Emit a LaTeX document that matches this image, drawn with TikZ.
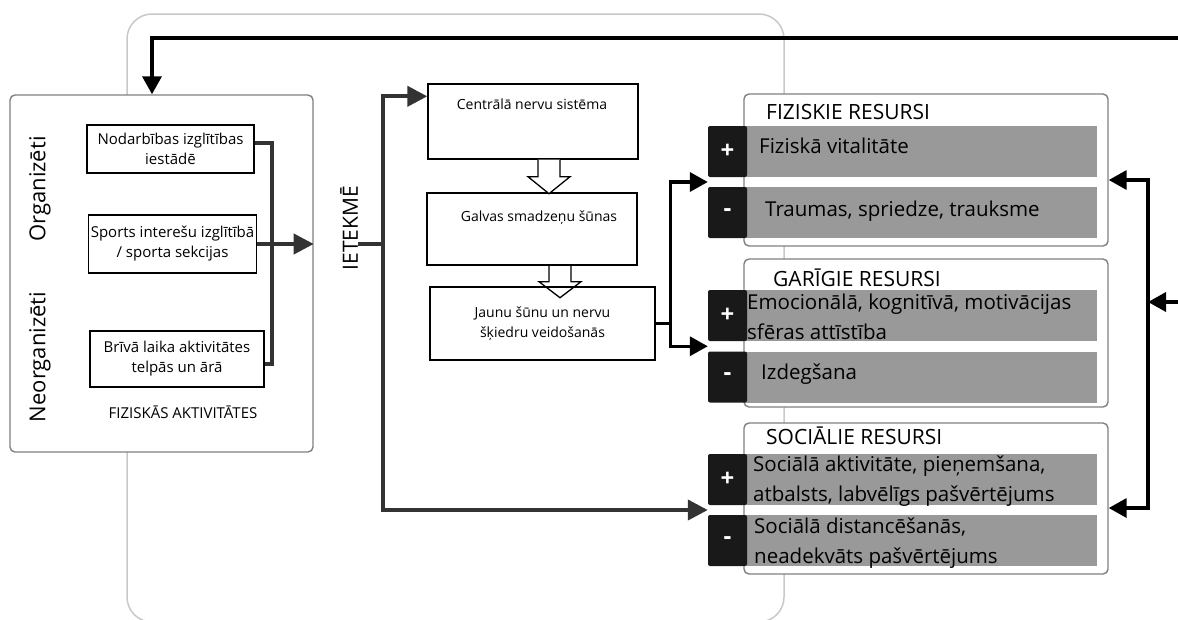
\documentclass[tikz,border=0pt]{standalone}
\usepackage{fontspec}
\setmainfont{Open Sans}
\usetikzlibrary{arrows.meta,positioning,calc}

\definecolor{bargray}{HTML}{999999}
\definecolor{framegray}{HTML}{808080}
\definecolor{linegray}{HTML}{333333}
\definecolor{bggray}{HTML}{C8C8C8}

\tikzset{
  textbox/.style={draw=black, line width=1.4pt, fill=white, inner sep=2pt,
    align=center, font=\fontsize{15}{20}\selectfont},
  groupbox/.style={draw=framegray, line width=1.4pt, fill=white, rounded corners=5pt},
  title/.style={anchor=west, inner sep=0pt, font=\fontsize{21}{24}\selectfont},
  bar/.style={fill=bargray, minimum width=352pt, minimum height=51pt, inner sep=0pt},
  signbox/.style={fill=black!90, text=white, minimum width=39pt, minimum height=51pt,
    inner sep=0pt, rounded corners=2pt, font=\bfseries\fontsize{24}{24}\selectfont},
  rowtext/.style={anchor=west, inner sep=0pt, align=left, font=\fontsize{20.5}{30}\selectfont},
  sidelabel/.style={rotate=90, inner sep=0pt, font=\fontsize{22}{24}\selectfont},
  darkline/.style={draw=linegray, line width=4pt},
  darkarrow/.style={darkline, -{Triangle[length=20pt,width=20pt]}},
  blackline/.style={draw=black, line width=3.5pt},
  blackarrow/.style={blackline, -{Triangle[length=18pt,width=19pt]}},
  hollow/.style={draw=black, line width=1.3pt, line join=miter}
}

\begin{document}
\begin{tikzpicture}[x=1pt, y=-1pt]
  \useasboundingbox (0,0) rectangle (1178,619);
  % background frame
  \draw[draw=bggray, line width=1.5pt, rounded corners=25pt] (127,14) rectangle (784,622);

  % physical activities
  \node[groupbox, minimum width=303pt, minimum height=357pt] (fizakt) at (161.5,273.5) {};
  \node[textbox, minimum width=167pt, minimum height=48pt] (act1) at (170.5,149) {Nodarbības izglītības\\iestādē};
  \node[textbox, minimum width=167pt, minimum height=58pt] (act2) at (172.5,244) {Sports interešu izglītībā\\/ sporta sekcijas};
  \node[textbox, minimum width=174pt, minimum height=56pt] (act3) at (177,359) {Brīvā laika aktivitātes\\telpās un ārā};
  \node[font=\fontsize{15}{17}\selectfont, inner sep=0pt] (fizlabel) at (183,412) {FIZISKĀS AKTIVITĀTES};
  \node[sidelabel] (org) at (40,189) {Organizēti};
  \node[sidelabel] (neorg) at (40,357) {Neorganizēti};

  \coordinate (brk) at (272,0);
  \draw[darkline] ([yshift=6pt]act1.east) -| (brk |- act3.east) -- ([yshift=-5pt]act3.east -| brk) -- ([yshift=-5pt]act3.east);
  \draw[darkarrow] (act2.east) -- (act2.east -| fizakt.east);

  % influence
  \node[sidelabel, font=\fontsize{21}{24}\selectfont] (ietekme) at (349,228) {IETEKMĒ};
  \coordinate (split) at (383,244);
  \draw[darkline] (split -| ietekme.south) -- (split);

  % nervous system chain
  \node[textbox, minimum width=210pt, minimum height=75pt] (cns) at (533,121.5) {};
  \node[font=\fontsize{14}{18}\selectfont, inner sep=0pt] (cnstext) at (532,104) {Centrālā nervu sistēma};
  \node[textbox, minimum width=210pt, minimum height=72pt] (brain) at (532,229) {};
  \node[font=\fontsize{14}{18}\selectfont, inner sep=0pt] (braintext) at (539,218) {Galvas smadzeņu šūnas};
  \node[textbox, minimum width=225pt, minimum height=73pt, font=\fontsize{14}{20}\selectfont] (newcells) at (542.5,323.5) {Jaunu šūnu un nervu\\šķiedru veidošanās};

  \coordinate (h1) at (549,0);
  \coordinate (h2) at (560,0);
  \draw[hollow, fill=white] (cns.south -| h1) ++(-11,0) -- ++(0,17) -- ++(-10,0) -- ++(21,17) -- ++(21,-17) -- ++(-10,0) -- ++(0,-17);
  \draw[hollow] (brain.south -| h2) ++(-11,0) -- ++(0,16) -- ++(-10,0) -- ++(21,16) -- ++(21,-16) -- ++(-10,0) -- ++(0,-16);

  \draw[darkarrow] (split) |- ([yshift=-13pt]cns.north west);

  % resources
  \node[groupbox, minimum width=364pt, minimum height=152pt] (fiz) at (926,170) {};
  \node[title] (fiztitle) at (766,112) {FIZISKIE RESURSI};
  \node[bar] (fizplusbar) at (921,151.5) {};
  \node[signbox] (fizplus) at (727.5,151.5) {+};
  \node[rowtext] (fizplustext) at (759,146) {Fiziskā vitalitāte};
  \node[bar] (fizminusbar) at (921,212.5) {};
  \node[signbox] (fizminus) at (727.5,212.5) {-};
  \node[rowtext] (fizminustext) at (765,211) {Traumas, spriedze, trauksme};

  \node[groupbox, minimum width=364pt, minimum height=148pt] (gar) at (926,333) {};
  \node[title] (gartitle) at (773,278) {GARĪGIE RESURSI};
  \node[bar] (garplusbar) at (921,315.5) {};
  \node[signbox] (garplus) at (727.5,315.5) {+};
  \node[rowtext] (garplustext) at (747,317) {Emocionālā, kognitīvā, motivācijas\\sfēras attīstība};
  \node[bar] (garminusbar) at (921,377) {};
  \node[signbox] (garminus) at (727.5,377) {-};
  \node[rowtext] (garminustext) at (761,374) {Izdegšana};

  \node[groupbox, minimum width=364pt, minimum height=151pt] (soc) at (926,498.5) {};
  \node[title] (soctitle) at (766,436) {SOCIĀLIE RESURSI};
  \node[bar] (socplusbar) at (921,479.5) {};
  \node[signbox] (socplus) at (727.5,479.5) {+};
  \node[rowtext] (socplustext) at (753,481) {Sociālā aktivitāte, pieņemšana,\\atbalsts, labvēlīgs pašvērtējums};
  \node[bar] (socminusbar) at (921,540.5) {};
  \node[signbox] (socminus) at (727.5,540.5) {-};
  \node[rowtext] (socminustext) at (754,543) {Sociālā distancēšanās,\\neadekvāts pašvērtējums};

  % into the resources
  \coordinate (fizin) at ($(fizplus.south west)!.5!(fizminus.north west)$);
  \coordinate (garin) at ($(garplus.south west)!.5!(garminus.north west)$);
  \coordinate (socin) at ($(socplus.south west)!.5!(socminus.north west)$);
  \coordinate (nsplit) at ([xshift=15pt]newcells.east);
  \draw[blackline] (newcells.east) -- (nsplit);
  \draw[blackarrow] (nsplit) |- (fizin);
  \draw[blackarrow] (nsplit) |- (garin);
  \draw[darkarrow] (split) |- (socin);

  % feedback
  \coordinate (fbmid) at (1148,302);
  \coordinate (inright) at (1178,302);
  \coordinate (topright) at (1178,38);
  \coordinate (topleft) at (152,38);
  \draw[blackarrow] (inright) -- (fbmid);
  \draw[blackarrow] (fbmid) |- ([yshift=-10pt]fiz.east);
  \draw[blackarrow] (fbmid) |- ([yshift=-9.5pt]soc.east);
  \draw[blackarrow] (topright) -- (topleft) -- (topleft |- fizakt.north);
\end{tikzpicture}
\end{document}
